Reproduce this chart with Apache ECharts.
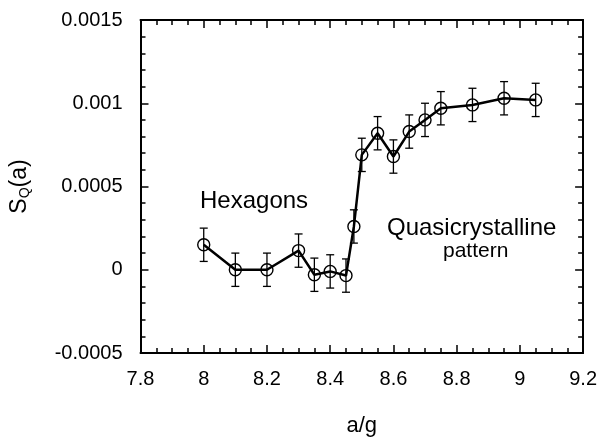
<!DOCTYPE html>
<html>
<head>
    <meta charset="utf-8">
    <script src="https://cdn.jsdelivr.net/npm/echarts@6/dist/echarts.min.js"></script>
    <style>
        html, body { margin: 0; padding: 0; background: #fff; }
        #main { width: 600px; height: 442px; }
    </style>
</head>
<body>
    <div id="main"></div>
    <script>
        // a/g values and S_Q(a)
        var ag = [8.0, 8.1, 8.2, 8.3, 8.35, 8.4, 8.45, 8.475, 8.5, 8.55, 8.6, 8.65, 8.7, 8.75, 8.85, 8.95, 9.05];
        var sq = [0.00015, 0.0, 0.0, 0.000115, -0.00003, -0.00001, -0.000035, 0.00026, 0.00069, 0.00082, 0.00068, 0.00083, 0.0009, 0.00097, 0.00099, 0.00103, 0.00102];
        var err = [0.0001, 0.0001, 0.0001, 0.0001, 0.0001, 0.0001, 0.0001, 0.0001, 0.0001, 0.0001, 0.0001, 0.0001, 0.0001, 0.0001, 0.0001, 0.0001, 0.0001];
        var yTickLabels = ['-0.0005', '0', '0.0005', '0.001', '0.0015'];

        var font = '"Liberation Sans", Arial, Helvetica, sans-serif';
        var chart = echarts.init(document.getElementById('main'));

        var lineData = [];
        var barData = [];
        for (var i = 0; i < ag.length; i++) {
            lineData.push([ag[i], sq[i]]);
            barData.push([ag[i], sq[i] - err[i], sq[i] + err[i]]);
        }

        function yLabel(v) {
            var idx = Math.round((v + 0.0005) / 0.0005);
            return yTickLabels[idx] || '';
        }

        var tickStyle = { color: '#000', width: 1.5 };

        var option = {
            animation: false,
            backgroundColor: '#fff',
            grid: { left: 139, right: 15, top: 20, bottom: 87 },
            xAxis: [{
                type: 'value',
                min: 7.8, max: 9.2, interval: 0.2,
                name: 'a/g',
                nameLocation: 'middle',
                nameGap: 62,
                nameTextStyle: { fontFamily: font, fontSize: 22, color: '#000' },
                axisLine: { onZero: false, lineStyle: { color: '#000', width: 2 } },
                axisTick: { inside: true, length: 8, lineStyle: tickStyle },
                minorTick: { show: true, splitNumber: 4, length: 5, lineStyle: tickStyle },
                axisLabel: { fontFamily: font, fontSize: 20, color: '#000', margin: 16 },
                splitLine: { show: false }
            }, {
                type: 'value', position: 'top',
                min: 7.8, max: 9.2, interval: 0.2,
                axisLine: { onZero: false, lineStyle: { color: '#000', width: 2 } },
                axisTick: { inside: true, length: 8, lineStyle: tickStyle },
                minorTick: { show: true, splitNumber: 4, length: 5, lineStyle: tickStyle },
                axisLabel: { show: false },
                splitLine: { show: false }
            }],
            yAxis: [{
                type: 'value',
                min: -0.0005, max: 0.0015, interval: 0.0005,
                name: '{s|S}{q|Q}{s|(a)}',
                nameLocation: 'middle',
                nameRotate: 90,
                nameGap: 108,
                nameTextStyle: {
                    rich: {
                        s: { fontFamily: font, fontSize: 23, color: '#000' },
                        q: { fontFamily: font, fontSize: 14, color: '#000', verticalAlign: 'bottom', padding: [12, 0, 0, 0] }
                    }
                },
                axisLine: { onZero: false, lineStyle: { color: '#000', width: 2 } },
                axisTick: { inside: true, length: 8, lineStyle: tickStyle },
                minorTick: { show: true, splitNumber: 5, length: 5, lineStyle: tickStyle },
                axisLabel: { fontFamily: font, fontSize: 20, color: '#000', margin: 18, formatter: yLabel },
                splitLine: { show: false }
            }, {
                type: 'value', position: 'right',
                min: -0.0005, max: 0.0015, interval: 0.0005,
                axisLine: { onZero: false, lineStyle: { color: '#000', width: 2 } },
                axisTick: { inside: true, length: 8, lineStyle: tickStyle },
                minorTick: { show: true, splitNumber: 5, length: 5, lineStyle: tickStyle },
                axisLabel: { show: false },
                splitLine: { show: false }
            }],
            series: [{
                type: 'custom',
                name: 'error',
                data: barData,
                encode: { x: 0, y: [1, 2] },
                z: 3,
                renderItem: function (params, api) {
                    var x = api.value(0);
                    var lo = api.coord([x, api.value(1)]);
                    var hi = api.coord([x, api.value(2)]);
                    var w = 4;
                    var st = { stroke: '#000', lineWidth: 1.3, fill: null };
                    return {
                        type: 'group',
                        children: [
                            { type: 'line', shape: { x1: lo[0], y1: lo[1], x2: hi[0], y2: hi[1] }, style: st },
                            { type: 'line', shape: { x1: lo[0] - w, y1: lo[1], x2: lo[0] + w, y2: lo[1] }, style: st },
                            { type: 'line', shape: { x1: hi[0] - w, y1: hi[1], x2: hi[0] + w, y2: hi[1] }, style: st }
                        ]
                    };
                }
            }, {
                type: 'line',
                name: 'SQ',
                data: lineData,
                z: 4,
                symbol: 'circle',
                symbolSize: 12,
                showAllSymbol: true,
                lineStyle: { color: '#000', width: 2.5 },
                itemStyle: { color: 'rgba(0,0,0,0)', borderColor: '#000', borderWidth: 1.4 }
            }],
            graphic: [{
                type: 'text', left: 200, top: 189,
                style: { text: 'Hexagons', font: '24px ' + font, fill: '#000' }
            }, {
                type: 'text', left: 387, top: 216,
                style: { text: 'Quasicrystalline', font: '24px ' + font, fill: '#000' }
            }, {
                type: 'text', left: 443, top: 241,
                style: { text: 'pattern', font: '21px ' + font, fill: '#000' }
            }]
        };

        chart.setOption(option);
    </script>
</body>
</html>
